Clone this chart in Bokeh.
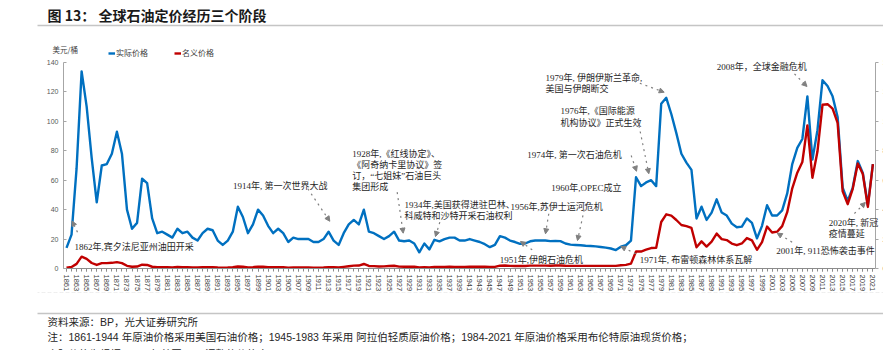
from bokeh.plotting import figure
from bokeh.models import (Range1d, LinearAxis, FixedTicker, Label, Arrow,
                          NormalHead, BoxAnnotation)
from bokeh.embed import file_html
from bokeh.resources import INLINE

# ---------------- data ----------------
years = list(range(1861, 2022))

real_price = [
    14, 23, 68, 134, 110, 75, 45, 70, 71, 78,            # 1861-1870
    93, 78, 40, 27, 31, 61, 58, 34, 24, 25,              # 1871-1880
    23, 21, 27, 24, 25, 21, 19, 24, 27, 26,              # 1881-1890
    19, 16, 19, 25, 42, 35, 24, 30, 40, 36,              # 1891-1900
    29, 24, 27, 24, 18, 21, 20, 20, 20, 18,              # 1901-1910
    18, 20, 25, 19, 16, 24, 30, 33, 30, 40,              # 1911-1920
    25, 24, 22, 20, 22, 25, 19, 18.5, 19, 17,            # 1921-1930
    11, 17, 13, 19.5, 18.5, 20, 21, 21, 19, 19,          # 1931-1940
    20, 19, 18, 16.5, 14.5, 16, 22, 21, 19, 18,          # 1941-1950
    16.8, 17, 18.5, 19, 19, 19, 18.6, 18.8, 18.6, 17,    # 1951-1960
    16.2, 16, 15.8, 15.5, 15.3, 15, 14.6, 14.2, 13.6, 12.5,  # 1961-1970
    14.8, 15.8, 19, 62, 56, 58.5, 60, 56, 112, 116,      # 1971-1980
    105, 92, 78, 72, 67, 34, 42, 33, 38, 47,             # 1981-1990
    38, 36, 30.5, 28, 28.5, 34, 31, 20.5, 29, 43,        # 1991-2000
    36, 36, 39.5, 51, 71, 82, 88, 117, 74, 94,           # 2001-2010
    128, 124, 117, 103, 55, 46, 55, 73, 65, 43,          # 2011-2020
    71,                                                  # 2021
]

nominal_price = [
    0.49, 1.05, 3.15, 8.06, 6.59, 3.74, 2.41, 3.63, 3.64, 3.86,
    4.34, 3.64, 1.83, 1.17, 1.35, 2.56, 2.42, 1.19, 0.86, 0.95,
    0.86, 0.78, 1.00, 0.84, 0.88, 0.71, 0.67, 0.88, 0.94, 0.87,
    0.67, 0.56, 0.64, 0.84, 1.36, 1.18, 0.79, 0.91, 1.29, 1.19,
    0.96, 0.80, 0.94, 0.86, 0.62, 0.73, 0.72, 0.72, 0.70, 0.61,
    0.61, 0.74, 0.95, 0.81, 0.64, 1.10, 1.56, 1.98, 2.01, 3.07,
    1.73, 1.61, 1.34, 1.43, 1.68, 1.88, 1.30, 1.17, 1.27, 1.19,
    0.65, 0.87, 0.67, 1.00, 0.97, 1.09, 1.18, 1.13, 1.02, 1.02,
    1.14, 1.19, 1.20, 1.21, 1.05, 1.12, 1.90, 1.99, 1.78, 1.71,
    1.71, 1.71, 1.93, 1.93, 1.93, 1.93, 1.90, 2.08, 2.08, 1.90,
    1.80, 1.80, 1.80, 1.80, 1.80, 1.80, 1.80, 1.80, 1.80, 1.80,
    2.24, 2.48, 3.29, 11.58, 11.53, 12.80, 13.92, 14.02, 31.61, 36.83,
    35.93, 32.97, 29.55, 28.78, 27.56, 14.43, 18.44, 14.92, 18.23, 23.73,
    20.00, 19.32, 16.97, 15.82, 17.02, 20.67, 19.09, 12.72, 17.97, 28.50,
    24.44, 25.02, 28.83, 38.27, 54.52, 65.14, 72.39, 97.26, 61.67, 79.50,
    111.26, 111.67, 108.66, 98.95, 52.39, 43.73, 54.19, 71.31, 64.21, 41.84,
    70.91,
]

y_ticks = [0, 20, 40, 60, 80, 100, 120, 140]
x_label_years = list(range(1861, 2022, 2))

series_names = ["实际价格", "名义价格"]
unit_label = "美元/桶"
title_text = "图 13：  全球石油定价经历三个阶段"
source_text = "资料来源：BP，光大证券研究所"
note_text = ("注：1861-1944 年原油价格采用美国石油价格；1945-1983 年采用 阿拉伯轻质原油价格；"
             "1984-2021 年原油价格采用布伦特原油现货价格；")
note_text2 = "实际价格为根据 2021 年美国 CPI 调整的价格水平"

# annotations: text lines, anchor (year, value), arrow start, arrow end
annotations = [
    (["1862年,宾夕法尼亚州油田开采"], 1862.59, 14.5, (1863.18, 24.7), (1862.09, 32.3)),
    (["1914年, 第一次世界大战"], 1894.04, 55.9, (1908.88, 54.2), (1913.24, 32.1)),
    (["1928年,《红线协定》、", "《阿奇纳卡里协议》签", "订，“七姐妹”石油巨头", "集团形成"],
     1917.69, 77.95, (1926.61, 51.9), (1927.81, 24.0)),
    (["1934年,美国获得进驻巴林、", "科威特和沙特开采石油权利"], 1928.06, 43.3,
     (1935.07, 31.5), (1934.21, 21.7)),
    (["1951年,伊朗石油危机"], 1946.97, 5.9, (1953.40, 12.7), (1951.08, 18.4)),
    (["1956年,苏伊士运河危机"], 1949.10, 42.1, (1956.69, 37.2), (1956.04, 23.6)),
    (["1960年,OPEC成立"], 1957.17, 54.6, (1963.98, 44.0), (1962.39, 19.0)),
    (["1974年, 第一次石油危机"], 1952.41, 76.8, (1973.04, 76.8), (1974.10, 66.1)),
    (["1976年,《国际能源", "机构协议》正式生效"], 1959.02, 106.7, (1974.35, 101.1), (1976.54, 64.4)),
    (["1979年, 伊朗伊斯兰革命,", "美国与伊朗断交"], 1956.04, 129.3, (1973.64, 127.3), (1979.59, 119.8)),
    (["1971年, 布雷顿森林体系瓦解"], 1974.75, 5.9, (1973.96, 10.0), (1970.98, 15.0)),
    (["2008年，全球金融危机"], 1990.0, 136.8, (2005.44, 132.3), (2007.92, 123.7)),
    (["2001年, 911恐怖袭击事件"], 2001.81, 12.2, (2004.98, 17.9), (2002.01, 24.0)),
    (["2020年, 新冠", "疫情蔓延"], 2012.25, 30.8, (2017.33, 37.4), (2019.51, 44.9)),
]
line_step = 7.6

# ---------------- geometry / styles ----------------
W, H = 883, 350
PX_PER_YEAR = 5.04          # horizontal scale of the category axis
PX_PER_UNIT = 206 / 140     # vertical scale of the value axis
X0_PX, Y0_PX = 66, 268      # canvas position of (1861, 0)
x_start = 1861 - X0_PX / PX_PER_YEAR
x_end = x_start + W / PX_PER_YEAR
y_end = Y0_PX / PX_PER_UNIT
y_start = y_end - H / PX_PER_UNIT
AX_LEFT, AX_RIGHT = 1860.4, 2021.5

BLUE = "#0070C0"
RED = "#C00000"
CJK = "'Noto Sans CJK SC'"
SERIF_CJK = "'Liberation Serif', 'Noto Sans CJK SC'"
SANS_CJK = "'Liberation Sans', 'Noto Sans CJK SC'"

p = figure(width=W, height=H, output_backend="svg", toolbar_location=None,
           x_range=Range1d(x_start, x_end), y_range=Range1d(y_start, y_end),
           x_axis_location=None, y_axis_location=None,
           min_border=0, min_border_left=0, min_border_right=0,
           min_border_top=0, min_border_bottom=0,
           background_fill_color="white", border_fill_color="white")
p.outline_line_color = None
p.grid.visible = False

# data lines
p.line(years, real_price, line_color=BLUE, line_width=2.4, line_join="round",
       legend_label=series_names[0])
p.line(years, nominal_price, line_color=RED, line_width=2.4, line_join="round",
       legend_label=series_names[1])

# axes (fixed inside the full-canvas frame)
xa = LinearAxis(fixed_location=0, bounds=(AX_LEFT, AX_RIGHT),
                ticker=FixedTicker(ticks=x_label_years, minor_ticks=years))
xa.major_label_orientation = "vertical"
xa.major_label_text_font = "Liberation Sans"
xa.major_label_text_font_size = "7.5px"
xa.major_label_text_color = "#404040"
xa.major_label_standoff = 3
xa.axis_line_color = "#8c8c8c"
xa.major_tick_line_color = "#8c8c8c"
xa.minor_tick_line_color = "#8c8c8c"
xa.major_tick_out = 3
xa.major_tick_in = 0
xa.minor_tick_out = 3
xa.minor_tick_in = 0
p.add_layout(xa, "below")

ya = LinearAxis(fixed_location=AX_LEFT, bounds=(0, 140),
                ticker=FixedTicker(ticks=y_ticks))
ya.major_label_text_font = "Liberation Sans"
ya.major_label_text_font_size = "7px"
ya.major_label_text_color = "#595959"
ya.major_label_standoff = 5
ya.axis_line_color = "#a6a6a6"
ya.major_tick_line_color = "#a6a6a6"
ya.major_tick_in = 3
ya.major_tick_out = 0
ya.minor_tick_line_color = None
p.add_layout(ya, "left")

ra = LinearAxis(fixed_location=AX_RIGHT, bounds=(0, 140),
                ticker=FixedTicker(ticks=y_ticks))
ra.major_label_text_font = "Liberation Sans"
ra.major_label_text_font_size = "7px"
ra.major_label_text_color = "#595959"
ra.major_label_standoff = 4
ra.axis_line_color = "#a6a6a6"
ra.major_tick_line_color = "#a6a6a6"
ra.major_tick_in = 0
ra.major_tick_out = 3
ra.minor_tick_line_color = None
p.add_layout(ra, "right")

# legend
lg = p.legend[0]
lg.location = (108, H - 58)
lg.orientation = "horizontal"
lg.border_line_color = None
lg.background_fill_alpha = 0
lg.padding = 0
lg.margin = 0
lg.spacing = 26
lg.label_standoff = 1
lg.glyph_width = 7
lg.glyph_height = 10
lg.label_height = 10
lg.label_text_font = CJK
lg.label_text_font_size = "8px"
lg.label_text_color = "#404040"


def screen_label(x, y, text, size, color="#262626", font=SANS_CJK, style="normal"):
    """Text placed in canvas pixels (x from left, y from top)."""
    p.add_layout(Label(x=x, y=H - y, x_units="screen", y_units="screen",
                       text=text, text_font=font, text_font_size=size,
                       text_color=color, text_baseline="middle",
                       text_align="left", text_font_style=style))


def hline(x0, x1, y, width=1.4, color="#404040", dash="solid"):
    p.add_layout(BoxAnnotation(left=x0, right=x1, bottom=H - y, top=H - y,
                               left_units="screen", right_units="screen",
                               bottom_units="screen", top_units="screen",
                               fill_alpha=0, line_color=color, line_width=width,
                               line_dash=dash))


# title and rules
screen_label(47, 14, title_text, "14px", color="#1a1a1a", font=CJK, style="bold")
hline(37, W, 25, width=1.5)
screen_label(52, 49, unit_label, "7.5px", color="#404040", font=CJK)
hline(37, W, 292, width=1, color="#c8c8c8", dash="dotted")
hline(37, W, 313, width=1.5)

# footers
screen_label(47, 321, source_text, "10.5px")
screen_label(47, 336, note_text, "10.5px")
screen_label(47, 353, note_text2, "10.5px")

# annotations
for lines, ax, ay, a_start, a_end in annotations:
    for i, t in enumerate(lines):
        p.add_layout(Label(x=ax, y=ay - i * line_step, text=t, text_font=SERIF_CJK,
                           text_font_size="9px", text_color="#262626",
                           text_baseline="middle", text_align="left"))
    p.add_layout(Arrow(x_start=a_start[0], y_start=a_start[1],
                       x_end=a_end[0], y_end=a_end[1],
                       line_color="#808080", line_width=1.2, line_dash="dotted",
                       end=NormalHead(size=5, fill_color="#808080",
                                      line_color="#808080", line_width=1)))

open("out.html", "w").write(file_html(p, INLINE))
